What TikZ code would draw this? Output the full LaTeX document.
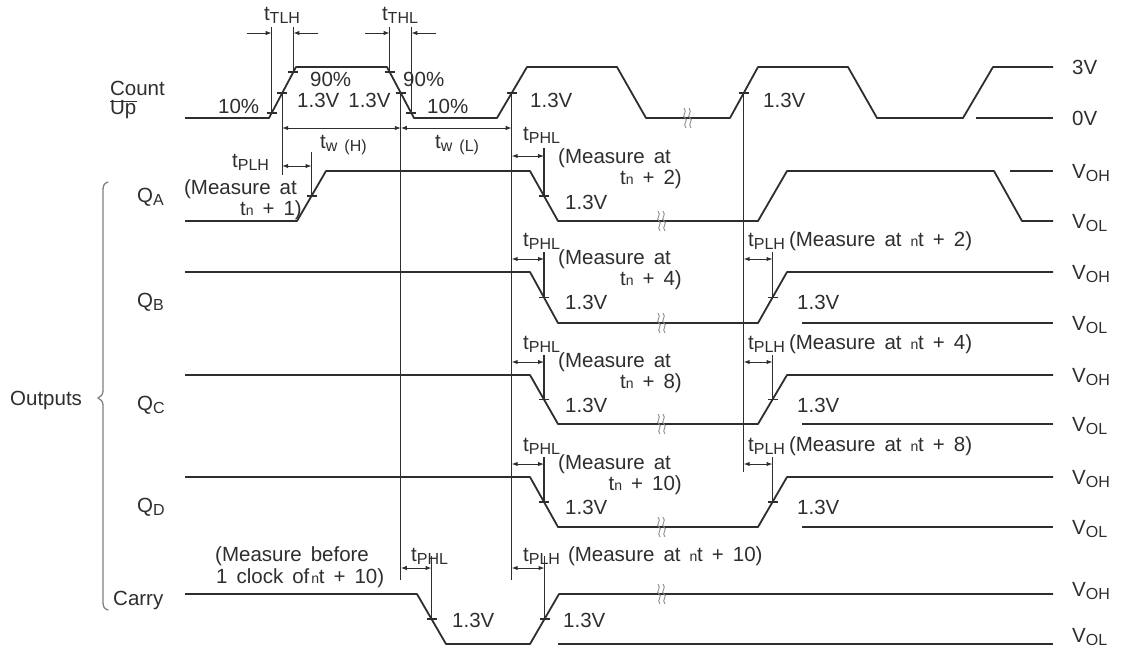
\documentclass[tikz,border=0pt]{standalone}
\usepackage{fontspec}
\setmainfont{Liberation Sans}
\usetikzlibrary{arrows.meta}
\newcommand{\mysub}[1]{\raisebox{-3pt}{\fontsize{16}{16}\selectfont #1}}
\newcommand{\smn}{{\fontsize{14}{14}\selectfont n}}
\newcommand{\ntt}{{\fontsize{14}{14}\selectfont n}\kern-0.3pt t}
\newcommand{\lblfont}{\fontsize{20.5}{23}\selectfont\spaceskip 9pt plus 1pt\relax}
\definecolor{ink}{HTML}{2E2E2E}
\begin{document}
\begin{tikzpicture}[x=1pt,y=-1pt,
  sig/.style={line width=1.8pt, draw=ink, line join=round},
  refl/.style={line width=1.1pt, draw=ink},
  arr/.style={line width=1pt, draw=ink, -{Latex[length=6pt,width=4.5pt]}},
  darr/.style={line width=1pt, draw=ink, {Latex[length=6pt,width=4.5pt]}-{Latex[length=6pt,width=4.5pt]}},
  lbl/.style={inner sep=0pt, text=ink, font=\lblfont},
  tk/.pic={\draw[line width=1.1pt, draw=ink] (-5,0) -- (5,0);},
  brk/.pic={\draw[black!45, line width=0.9pt] (-4,-10) .. controls (0,-6) and (-7,-2) .. (-3,0) .. controls (1,2) and (-6,6) .. (-2,10);
            \draw[black!45, line width=0.9pt] (1,-10) .. controls (5,-6) and (-2,-2) .. (2,0) .. controls (6,2) and (-1,6) .. (3,10);}
]
\useasboundingbox (0,0) rectangle (1122,649);

% ---------------- Count / Up ----------------
\draw[sig] (185,118) -- (269,118) -- (296,67) -- (387,67) -- (414,118) -- (497,118) -- (527,67) -- (617,67) -- (646,118) -- (730,118) -- (758,67) -- (848,67) -- (877,118) -- (963,118) -- (993,67) -- (1053,67);
\draw[sig] (976,118) -- (1053,118);
\pic at (688,118) {brk};
\pic at (271.6,113) {tk};
\pic at (282.2,93) {tk};
\pic at (293.4,72) {tk};
\pic at (389.6,72) {tk};
\pic at (400.8,93) {tk};
\pic at (411.4,113) {tk};
\pic at (511.7,93) {tk};
\pic at (743.7,93) {tk};

\node[lbl, anchor=base east] (count) at (165,95) {Count};
\node[lbl, anchor=base west] (up) at (count.base west |- 0,114) {Up};
\draw[line width=1pt, draw=ink] ([yshift=-2pt]up.north west) -- ([yshift=-2pt]up.north east);

% t_TLH / t_THL
\draw[refl] (271.6,27) -- (271.6,113);
\draw[refl] (293.4,27) -- (293.4,72);
\draw[arr] (247,33) -- (271.6,33);
\draw[arr] (318,33) -- (293.4,33);
\draw[refl] (389.6,27) -- (389.6,72);
\draw[refl] (411.4,27) -- (411.4,113);
\draw[arr] (365,33) -- (389.6,33);
\draw[arr] (436,33) -- (411.4,33);
\node[lbl, anchor=base] (ttlh) at (282,20) {t\mysub{TLH}};
\node[lbl, anchor=base] (tthl) at (400,20) {t\mysub{THL}};

\node[lbl, anchor=base west] (p10a) at (218,113) {10\%};
\node[lbl, anchor=base west] (p90a) at (310,86) {90\%};
\node[lbl, anchor=base west] (v13a) at (297,107) {1.3V 1.3V};
\node[lbl, anchor=base west] (p90b) at (403,86) {90\%};
\node[lbl, anchor=base west] (p10b) at (427,113) {10\%};
\node[lbl, anchor=base west] (v13b) at (530,107) {1.3V};
\node[lbl, anchor=base west] (v13c) at (763,107) {1.3V};

% long reference lines
\draw[refl] (282.2,93) -- (282.2,175);
\draw[refl] (400.8,93) -- (400.8,580);
\draw[refl] (511.7,93) -- (511.7,580);
\draw[refl] (743.7,93) -- (743.7,472);

% pulse widths
\draw[darr] (282.2,128) -- (400.8,128);
\draw[darr] (400.8,128) -- (511.7,128);
\node[lbl, anchor=base west] (twh) at (320,148) {t\mysub{w\hspace{7pt}(H)}};
\node[lbl, anchor=base west] (twl) at (435,148) {t\mysub{w\hspace{7pt}(L)}};

% right-hand level labels
\node[lbl, anchor=base west] (l3v) at (1072,74) {3V};
\node[lbl, anchor=base west] (l0v) at (1072,125) {0V};

% ---------------- Q_A ----------------
\draw[sig] (185,221) -- (297,221) -- (326,171) -- (530,171) -- (558,221) -- (758,221) -- (787,171) -- (994,171) -- (1022,221) -- (1053,221);
\draw[sig] (1010,171) -- (1053,171);
\pic at (662,221) {brk};
\pic at (311.5,196) {tk};
\pic at (544,196) {tk};
\draw[darr] (282.2,166) -- (311.5,166);
\draw[refl] (311.5,152) -- (311.5,196);
\node[lbl, anchor=base west] (qa) at (137,202) {Q\mysub{A}};
\node[lbl, anchor=base west] (tplha) at (232,167) {t\mysub{PLH}};
\node[lbl, anchor=base east] (ma1) at (297,194) {(Measure at};
\node[lbl, anchor=base east] (ma2) at (302,215) {t\smn\ + 1)};
\draw[darr] (511.7,156) -- (544,156);
\draw[refl] (544,148) -- (544,196);
\node[lbl, anchor=base west] (tphla) at (523,140) {t\mysub{PHL}};
\node[lbl, anchor=base west] (mb1) at (558,163) {(Measure at};
\node[lbl, anchor=base east] (mb2) at (682,184) {t\smn\ + 2)};
\node[lbl, anchor=base west] (v13qa) at (565,209) {1.3V};
\node[lbl, anchor=base west] (vaoh) at (1072,178) {V\mysub{OH}};
\node[lbl, anchor=base west] (vaol) at (1072,228) {V\mysub{OL}};

% ---------------- Q_B, Q_C, Q_D ----------------
\foreach \H/\L/\nm/\k/\kk in {272/323/B/4/2, 375/424/C/8/4, 477/527/D/10/8}{
  \pgfmathsetmacro{\M}{(\H+\L)/2}
  \draw[sig] (185,\H) -- (530,\H) -- (558,\L) -- (758,\L) -- (787,\H) -- (1053,\H);
  \draw[sig] (802,\L) -- (1053,\L);
  \pic at (662,\L) {brk};
  \pic at (544,\M) {tk};
  \pic at (772.5,\M) {tk};
  \draw[darr] (511.7,\H-13) -- (544,\H-13);
  \draw[refl] (544,\H-20) -- (544,\M);
  \draw[darr] (743.7,\H-13) -- (772.5,\H-13);
  \draw[refl] (772.5,\H-20) -- (772.5,\M);
  \node[lbl, anchor=base west] (q\nm) at (137,\H+35) {Q\mysub{\nm}};
  \node[lbl, anchor=base west] (tphl\nm) at (523,\H-26) {t\mysub{PHL}};
  \node[lbl, anchor=base west] (m1\nm) at (558,\H-8) {(Measure at};
  \node[lbl, anchor=base east] (m2\nm) at (682,\H+13) {t\smn\ + \k)};
  \node[lbl, anchor=base west] (v13l\nm) at (565,\H+37) {1.3V};
  \node[lbl, anchor=base west] (tplh\nm) at (748,\H-26) {t\mysub{PLH}\kern4pt(Measure at \ntt\ + \kk)};
  \node[lbl, anchor=base west] (v13r\nm) at (797,\H+37) {1.3V};
  \node[lbl, anchor=base west] (voh\nm) at (1072,\H+7) {V\mysub{OH}};
  \node[lbl, anchor=base west] (vol\nm) at (1072,\L+7) {V\mysub{OL}};
}

% ---------------- Carry ----------------
\draw[sig] (185,594) -- (417,594) -- (446,644) -- (530,644) -- (559,594) -- (1053,594);
\draw[sig] (558,644) -- (1053,644);
\pic at (662,594) {brk};
\pic at (431.5,619) {tk};
\pic at (544.5,619) {tk};
\draw[darr] (400.8,568) -- (431.5,568);
\draw[refl] (431.5,556) -- (431.5,619);
\draw[darr] (511.7,568) -- (544.5,568);
\draw[refl] (544.5,556) -- (544.5,619);
\node[lbl, anchor=base west] (carry) at (113,605) {Carry};
\node[lbl, anchor=base west] (tphlc) at (411,561) {t\mysub{PHL}};
\node[lbl, anchor=base west] (tplhc) at (523,561) {t\mysub{PLH}\kern8pt(Measure at \ntt\ + 10)};
\node[lbl, anchor=base west] (mc1) at (215,561) {(Measure before};
\node[lbl, anchor=base west] (mc2) at (216,583) {1 clock of\kern2pt\ntt\ + 10)};
\node[lbl, anchor=base west] (v13cl) at (452,627) {1.3V};
\node[lbl, anchor=base west] (v13cr) at (563,627) {1.3V};
\node[lbl, anchor=base west] (vcoh) at (1072,596) {V\mysub{OH}};
\node[lbl, anchor=base west] (vcol) at (1072,642) {V\mysub{OL}};

% ---------------- Outputs brace ----------------
\draw[black!50, line width=1.3pt, line cap=round, line join=round]
  (108,182) .. controls (104,183) and (103,186) .. (103,190) -- (103,391)
  .. controls (103,395) and (100,397) .. (98,398)
  .. controls (100,399) and (103,401) .. (103,405) -- (103,602)
  .. controls (103,606) and (104,609) .. (108,610);
\node[lbl, anchor=base west] (outs) at (10,405) {Outputs};
\end{tikzpicture}
\end{document}
